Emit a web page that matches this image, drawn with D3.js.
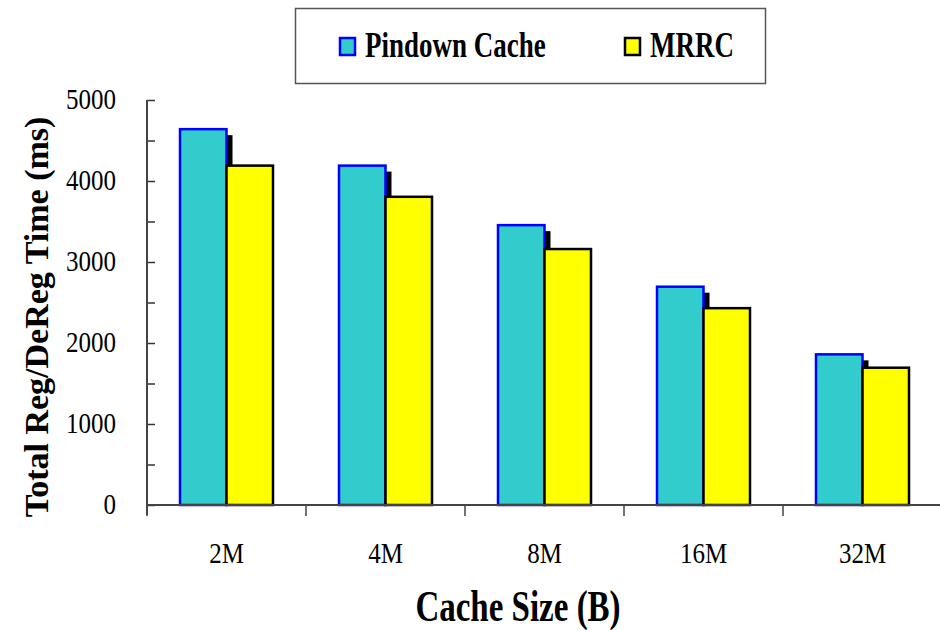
<!DOCTYPE html>
<html>
<head>
<meta charset="utf-8">
<script src="https://cdn.jsdelivr.net/npm/d3@7"></script>
<style>
  html, body { margin: 0; padding: 0; background: #fff; }
  svg { display: block; }
</style>
</head>
<body>
<svg id="chart" width="940" height="630" font-family="'Liberation Serif', 'Times New Roman', serif"></svg>
<script>
// Cache sizes and total registration/deregistration time (ms)
const categories = ["2M", "4M", "8M", "16M", "32M"];
const seriesNames = ["Pindown Cache", "MRRC"];
const pindownValues = [4640, 4190, 3455, 2695, 1860];
const mrrcValues = [4190, 3805, 3160, 2430, 1695];
const yTickValues = [0, 1000, 2000, 3000, 4000, 5000];
const yMinorTicks = [0, 500, 1000, 1500, 2000, 2500, 3000, 3500, 4000, 4500, 5000];

const fills = ["#33CCCC", "#FFFF00"];
const strokes = ["#0000FF", "#000000"];
const serif = "'Liberation Serif', 'Times New Roman', serif";

const svg = d3.select("#chart");
const plot = { left: 147, right: 942, top: 100, bottom: 505 };

const y = d3.scaleLinear().domain([0, 5000]).range([plot.bottom, plot.top]);
const x0 = d3.scaleBand().domain(categories).range([plot.left, plot.right]).padding(0);
const bw = x0.bandwidth();
const x1 = d3.scaleBand().domain(seriesNames).range([bw / 2 - 46.5, bw / 2 + 46.5]).padding(0);

const series = [pindownValues, mrrcValues];

// tall, narrow type: text anchored at (x, y) and stretched vertically
function tallText(parent, x, yPos, str, size, stretch, opts = {}) {
  return parent.append("text")
    .attr("transform", `translate(${x},${yPos}) scale(1,${stretch})`)
    .attr("text-anchor", opts.anchor || "start")
    .style("font-family", serif)
    .style("font-size", size + "px")
    .style("font-weight", opts.bold ? "bold" : "normal")
    .text(str);
}

// bars: drop shadow behind the first series, then the bars
const groups = svg.append("g").selectAll("g")
  .data(categories)
  .join("g")
  .attr("transform", d => `translate(${x0(d)},0)`);

groups.append("rect")
  .attr("x", x1(seriesNames[0]) + 6)
  .attr("y", (d, i) => y(series[0][i]) + 6)
  .attr("width", x1.bandwidth())
  .attr("height", (d, i) => y(0) - y(series[0][i]) - 6)
  .attr("fill", "#000");

seriesNames.forEach((s, si) => {
  groups.append("rect")
    .attr("x", x1(s))
    .attr("y", (d, i) => y(series[si][i]))
    .attr("width", x1.bandwidth())
    .attr("height", (d, i) => y(0) - y(series[si][i]))
    .attr("fill", fills[si])
    .attr("stroke", strokes[si])
    .attr("stroke-width", 2.5);
});

// y axis
const yAxis = svg.append("g").attr("transform", `translate(${plot.left},0)`);
yAxis.call(d3.axisRight(y).tickValues(yMinorTicks).tickSize(8).tickFormat(""));
yAxis.select(".domain").remove();
yAxis.selectAll(".tick line").attr("stroke", "#333").attr("stroke-width", 1.5);
yAxis.append("line").attr("x1", 0).attr("x2", 0).attr("y1", plot.top).attr("y2", plot.bottom + 10)
  .attr("stroke", "#444").attr("stroke-width", 2);

const yLabels = svg.append("g");
yTickValues.forEach(v => {
  tallText(yLabels, 116, y(v) + 9, v, 25, 1.22, { anchor: "end" });
});

// x axis
const xAxis = svg.append("g").attr("transform", `translate(0,${plot.bottom})`);
xAxis.append("line").attr("x1", plot.left).attr("x2", 940).attr("y1", 0).attr("y2", 0)
  .attr("stroke", "#444").attr("stroke-width", 2);
xAxis.selectAll("line.cat")
  .data(categories)
  .join("line")
  .attr("class", "cat")
  .attr("x1", d => x0(d)).attr("x2", d => x0(d))
  .attr("y1", 0).attr("y2", 11)
  .attr("stroke", "#444").attr("stroke-width", 1.5);
categories.forEach(c => {
  tallText(xAxis, x0(c) + bw / 2, 58, c, 25, 1.15, { anchor: "middle" });
});

// axis titles
tallText(svg, 518, 621, "Cache Size (B)", 33, 1.35, { anchor: "middle", bold: true });

svg.append("text")
  .attr("transform", "translate(48,317) rotate(-90)")
  .attr("text-anchor", "middle")
  .style("font-family", serif)
  .style("font-size", "34px").style("font-weight", "bold")
  .text("Total Reg/DeReg Time (ms)");

// legend
const legend = svg.append("g");
legend.append("rect").attr("x", 295.5).attr("y", 8.5).attr("width", 470).attr("height", 75)
  .attr("fill", "#fff").attr("stroke", "#555").attr("stroke-width", 1.5);
const legendItems = [
  { name: seriesNames[0], sx: 340, tx: 365 },
  { name: seriesNames[1], sx: 625, tx: 650 }
];
legendItems.forEach((it, i) => {
  legend.append("rect").attr("x", it.sx).attr("y", 38).attr("width", 15).attr("height", 17)
    .attr("fill", fills[i]).attr("stroke", strokes[i]).attr("stroke-width", 2.5);
  tallText(legend, it.tx, 57, it.name, 27, 1.32, { bold: true });
});
</script>
</body>
</html>
